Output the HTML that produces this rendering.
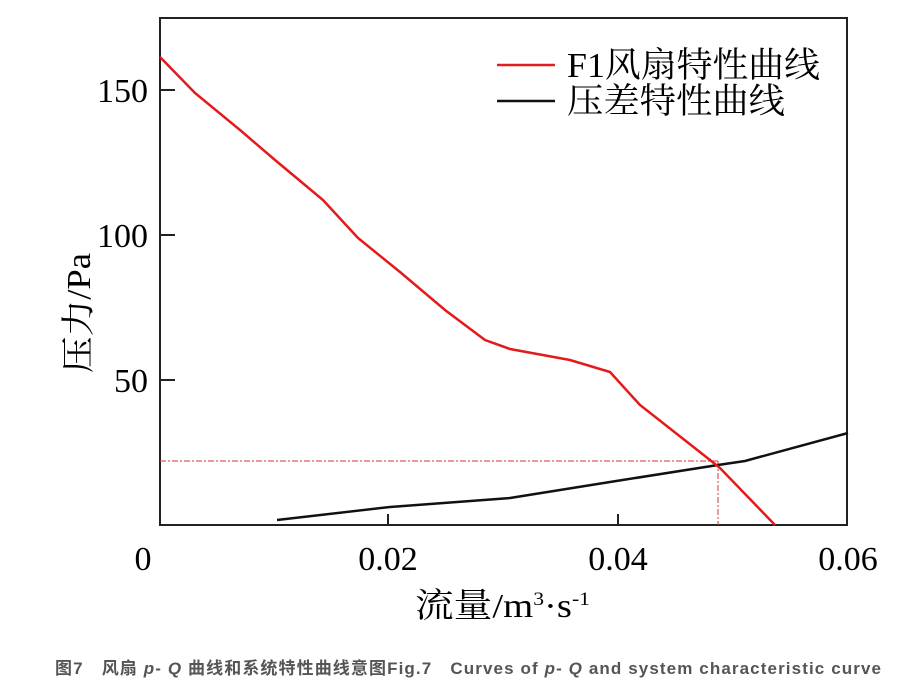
<!DOCTYPE html>
<html><head><meta charset="utf-8"><style>
body{margin:0;background:#fff;width:902px;height:681px;overflow:hidden}
</style></head><body>
<svg width="902" height="681" xmlns="http://www.w3.org/2000/svg">
<g font-family="Liberation Serif, Noto Serif CJK SC, serif" fill="#000">
<rect x="160" y="18" width="687" height="507" fill="none" stroke="#222" stroke-width="2"/>
<line x1="160" y1="90" x2="175" y2="90" stroke="#222" stroke-width="2"/>
<line x1="160" y1="235" x2="175" y2="235" stroke="#222" stroke-width="2"/>
<line x1="160" y1="380" x2="175" y2="380" stroke="#222" stroke-width="2"/>
<line x1="388" y1="525" x2="388" y2="514" stroke="#222" stroke-width="2"/>
<line x1="618" y1="525" x2="618" y2="514" stroke="#222" stroke-width="2"/>
<text x="148" y="102" font-size="34" text-anchor="end">150</text>
<text x="148" y="247" font-size="34" text-anchor="end">100</text>
<text x="148" y="392" font-size="34" text-anchor="end">50</text>
<text x="143" y="570" font-size="34" text-anchor="middle">0</text>
<text x="388" y="570" font-size="34" text-anchor="middle">0.02</text>
<text x="618" y="570" font-size="34" text-anchor="middle">0.04</text>
<text x="848" y="570" font-size="34" text-anchor="middle">0.06</text>
<text x="415" y="617" font-size="34" textLength="175" lengthAdjust="spacingAndGlyphs">流量/m<tspan font-size="19" dy="-12">3</tspan><tspan dy="12">·s</tspan><tspan font-size="19" dy="-12">-1</tspan></text>
<text transform="translate(90,313) rotate(-90)" font-size="34" text-anchor="middle" textLength="120" lengthAdjust="spacingAndGlyphs">压力/Pa</text>
<line x1="497" y1="65" x2="555" y2="65" stroke="#e02020" stroke-width="2.5"/>
<text x="567" y="77" font-size="35" textLength="253" lengthAdjust="spacingAndGlyphs">F1风扇特性曲线</text>
<line x1="497" y1="101" x2="555" y2="101" stroke="#111" stroke-width="2.5"/>
<text x="567" y="113" font-size="35" textLength="218" lengthAdjust="spacingAndGlyphs">压差特性曲线</text>
</g>
<line x1="160" y1="461" x2="718" y2="461" stroke="#e03040" stroke-width="1" stroke-dasharray="6,2,2,2"/>
<line x1="718" y1="461" x2="718" y2="525" stroke="#e03040" stroke-width="1" stroke-dasharray="6,2,2,2"/>
<polyline fill="none" stroke="#111" stroke-width="2.5" points="277,520 390,507 510,498 610,482 718,465 745,461 848,433"/>
<polyline fill="none" stroke="#e41a1a" stroke-width="2.5" points="160,57 195,93 240,130 275,160 323,200 358,238 400,272 445,310 485,340 510,349 570,360 610,372 640,405 710,460 720,468 775,525"/>
<text x="55" y="674" font-family="Liberation Sans, Noto Sans CJK SC, sans-serif" font-size="17" font-weight="bold" fill="#555" textLength="826" lengthAdjust="spacing">图7　风扇 <tspan font-style="italic">p</tspan>- <tspan font-style="italic">Q</tspan> 曲线和系统特性曲线意图Fig.7　Curves of <tspan font-style="italic">p</tspan>- <tspan font-style="italic">Q</tspan> and system characteristic curve</text>
</svg>
</body></html>
